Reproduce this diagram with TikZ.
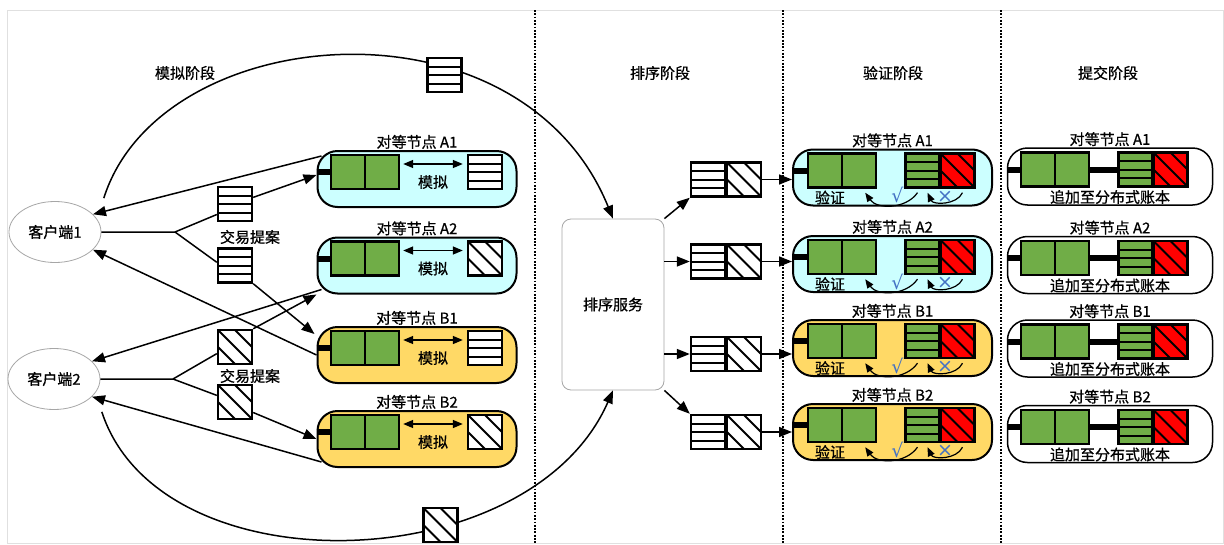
\documentclass[tikz,border=0pt]{standalone}
\usepackage{fontspec}
\setmainfont{Noto Sans CJK SC}[FakeBold=0.8]
\newfontfamily\markfont{DejaVu Sans}
\usetikzlibrary{shapes.geometric, arrows.meta, positioning, calc}

\definecolor{cyanbg}{HTML}{CCFFFF}
\definecolor{yellowbg}{HTML}{FFD966}
\definecolor{ledgergreen}{HTML}{70AD47}
\definecolor{txred}{HTML}{FF0000}
\definecolor{okblue}{HTML}{4472C4}

\begin{document}
\begin{tikzpicture}[x=1pt, y=-1pt,
    txt/.style      ={font=\fontsize{15}{18}\selectfont, inner sep=1pt},
    client/.style   ={ellipse, draw=gray!70, line width=0.8pt, fill=white,
                      minimum width=92pt, minimum height=61pt, txt},
    service/.style  ={rectangle, rounded corners=9pt, draw=gray!70, line width=0.8pt, fill=white,
                      minimum width=102pt, minimum height=171pt, txt},
    peer/.style     ={rectangle, rounded corners=20pt, draw, line width=2pt,
                      minimum width=199pt, minimum height=56pt},
    compeer/.style  ={rectangle, rounded corners=20pt, draw, line width=1.5pt, fill=white,
                      minimum width=205pt, minimum height=57pt},
    blockbase/.style={rectangle, draw, line width=2.4pt, minimum width=34pt, minimum height=34pt, inner sep=0pt},
    stripes/.style  ={blockbase, fill=#1, path picture={
                      \foreach \f in {0.25,0.5,0.75}
                        \draw[line width=2pt] ($(path picture bounding box.north west)!\f!(path picture bounding box.south west)$)
                                           -- ($(path picture bounding box.north east)!\f!(path picture bounding box.south east)$);}},
    stripes/.default=white,
    hatch/.style    ={blockbase, fill=#1, path picture={
                      \draw[line width=2pt] (path picture bounding box.north west) -- (path picture bounding box.south east)
                                            (path picture bounding box.north) -- (path picture bounding box.east)
                                            (path picture bounding box.west) -- (path picture bounding box.south);}},
    hatch/.default=white,
    ledger/.style   ={rectangle, draw, line width=2.4pt, fill=ledgergreen, minimum width=68pt, minimum height=34pt,
                      inner sep=0pt, path picture={
                      \draw[line width=2.4pt] (path picture bounding box.north) -- (path picture bounding box.south);}},
    bar/.style      ={line width=6pt},
    link/.style     ={line width=1.5pt},
    arr/.style      ={line width=1.5pt, -{Triangle[length=13pt, width=10pt]}},
    dblarr/.style   ={line width=1.5pt, {Triangle[length=10pt, width=8pt]}-{Triangle[length=10pt, width=8pt]}},
    bendarr/.style  ={line width=1.2pt, -{Triangle[length=9pt, width=7pt]}},
    chk/.style      ={font=\markfont\fontsize{19}{21}\selectfont, text=okblue, inner sep=0pt},
    divider/.style  ={line width=1.2pt, dash pattern=on 1.8pt off 1.5pt}
  ]
  \useasboundingbox (0,0) rectangle (1224,544);
  \draw[black!12, line width=0.6pt] (7.5,10.5) rectangle (1223.5,543.5);

  % --- Fases ---
  \draw[divider] (535,10) -- (535,544);
  \draw[divider] (783,10) -- (783,544);
  \draw[divider] (1001,10) -- (1001,544);
  \node[txt] (simphase) at (185,73)  {模拟阶段};
  \node[txt] (ordphase) at (660,73)  {排序阶段};
  \node[txt] (verphase) at (893,73)  {验证阶段};
  \node[txt] (comphase) at (1108,73) {提交阶段};

  % --- Clientes y servicio de orden ---
  \node[client]  (client1) at (55,232)    {客户端1};
  \node[client]  (client2) at (54,379)    {客户端2};
  \node[service] (order)   at (613,304.5) {排序服务};

  % arcos de envio al servicio de orden
  \draw[arr] ([shift={(16,-12)}]client1.north east) .. controls (160,20) and (520,-10) .. (order.north);
  \draw[arr] ([shift={(15,11)}]client2.south east) .. controls (160,590) and (530,580) .. (order.south);
  \node[stripes] (txtop) at (444.5,75) {};
  \node[hatch]   (txbot) at (440.5,525) {};

  % --- Propuestas ---
  \node[stripes] (tx1a) at (235,204)   {};
  \node[stripes] (tx1b) at (235,265.5) {};
  \node[hatch]   (tx2a) at (235,347)   {};
  \node[hatch]   (tx2b) at (235,402)   {};
  \node[txt] (prop1) at (250,237) {交易提案};
  \node[txt] (prop2) at (250,376) {交易提案};

  % --- Pares de simulacion ---
  \foreach \nm/\yc/\col/\blk in {A1/179/cyanbg/stripes, A2/265.5/cyanbg/hatch,
                                 B1/355/yellowbg/stripes, B2/439/yellowbg/hatch} {
    \node[peer, fill=\col] (sim\nm) at (417,\yc) {};
    \node[txt, above=0pt of sim\nm] (simtit\nm) {对等节点 \nm};
    \node[ledger] (simled\nm) at (365,\yc-7) {};
    \node[\blk]   (simblk\nm) at (485,\yc-7) {};
    \draw[bar] (sim\nm.west |- simled\nm.west) -- (simled\nm.west);
    \draw[dblarr] ([shift={(3,-8)}]simled\nm.east) -- ([shift={(-4,-8)}]simblk\nm.west);
    \node[txt] (simlab\nm) at (433,\yc+3) {模拟};
  }

  % --- Bloques del servicio de orden ---
  \foreach \i/\yb in {1/179.5, 2/261.5, 3/354, 4/432} {
    \node[stripes] (blks\i) at (708,\yb) {};
    \node[hatch]   (blkh\i) at (744,\yb) {};
  }

  % --- Pares de validacion ---
  \foreach \nm/\yc/\col in {A1/177.5/cyanbg, A2/264/cyanbg, B1/348/yellowbg, B2/432/yellowbg} {
    \node[peer, fill=\col] (ver\nm) at (892.5,\yc) {};
    \node[txt, above=0pt of ver\nm] (vertit\nm) {对等节点 \nm};
    \node[ledger] (verled\nm) at (842,\yc-7) {};
    \node[stripes=ledgergreen] (vergrn\nm) at (922.5,\yc-7) {};
    \node[hatch=txred]         (verred\nm) at (957.5,\yc-7) {};
    \draw[bar] (ver\nm.west |- verled\nm.west) -- (verled\nm.west);
    \node[txt] (verlab\nm) at (830,\yc+20) {验证};
    \draw[bendarr] ([shift={(-5,4)}]vergrn\nm.south) to[bend left=55]
        node[chk, above=1pt, pos=0.4] (verok\nm) {√} ([shift={(-12,4)}]verled\nm.south east);
    \draw[bendarr] ([shift={(5,4)}]verred\nm.south) to[bend left=65]
        node[chk, above=-1pt] (verno\nm) {×} ([shift={(5,4)}]vergrn\nm.south);
  }

  % --- Pares de confirmacion ---
  \foreach \nm/\yc in {A1/176.5, A2/265, B1/348.5, B2/434} {
    \node[compeer] (com\nm) at (1110,\yc) {};
    \node[txt, above=0pt of com\nm] (comtit\nm) {对等节点 \nm};
    \node[ledger] (comled\nm) at (1055,\yc-7) {};
    \node[stripes=ledgergreen] (comgrn\nm) at (1135.5,\yc-7) {};
    \node[hatch=txred]         (comred\nm) at (1170.5,\yc-7) {};
    \draw[bar] (com\nm.west |- comled\nm.west) -- (comled\nm.west);
    \draw[bar] (comled\nm.east) -- (comgrn\nm.west);
    \node[txt] (comlab\nm) at (1110,\yc+20.5) {追加至分布式账本};
  }

  % --- Enlaces de propuestas ---
  \coordinate (fork1) at (175,232);
  \coordinate (fork2) at (173,379);
  \draw[link] (client1.east) -- (fork1) -- (tx1a.210);
  \draw[link] (fork1) -- (tx1b.170);
  \draw[link] (client2.east) -- (fork2) -- (tx2a.200);
  \draw[link] (fork2) -- (tx2b.160);
  \draw[arr] (tx1a.20) -- ([shift={(0,-4)}]simA1.west);
  \draw[arr] (tx1b.south east) -- ([shift={(-2,8)}]simB1.north west);
  \draw[arr] (tx2a.north east) -- (simA2.south west);
  \draw[arr] (tx2b.330) -- (simB2.west);

  % respuestas de los pares
  \draw[arr] ([shift={(5,6)}]simA1.north west) -- (client1.25);
  \draw[arr] (simB1.west) -- (client1.-25);
  \draw[arr] ([shift={(5,-5)}]simA2.south west) -- (client2.25);
  \draw[arr] ([shift={(5,-6)}]simB2.south west) -- (client2.-25);

  % --- Orden -> bloques -> validacion ---
  \draw[arr] (order.north east) -- (blks1.south west);
  \draw[arr] (order.east |- blks2.west) -- (blks2.west);
  \draw[arr] (order.east |- blks3.west) -- (blks3.west);
  \draw[arr] (order.south east) -- (blks4.north west);
  \foreach \i/\nm in {1/A1, 2/A2, 3/B1, 4/B2}
    \draw[arr] (blkh\i.east) -- (ver\nm.west |- blkh\i.east);
\end{tikzpicture}
\end{document}
